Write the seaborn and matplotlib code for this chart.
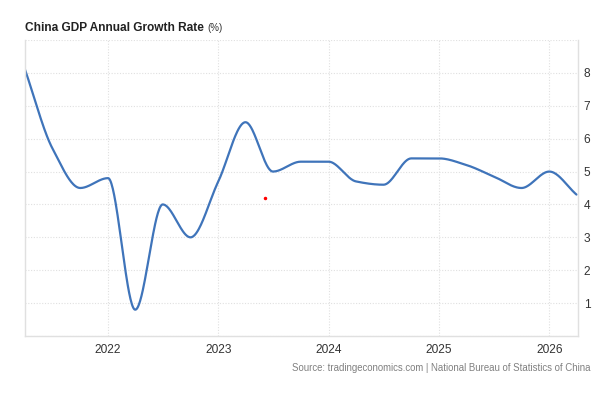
import matplotlib
matplotlib.use("Agg")
import matplotlib.pyplot as plt
import matplotlib.dates as mdates
import seaborn as sns
import pandas as pd
import numpy as np

# quarterly readings
quarters = ['2021-04-01', '2021-07-01', '2021-10-01',
            '2022-01-01', '2022-04-01', '2022-07-01', '2022-10-01',
            '2023-01-01', '2023-04-01', '2023-07-01', '2023-10-01',
            '2024-01-01', '2024-04-01', '2024-07-01', '2024-10-01',
            '2025-01-01', '2025-04-01', '2025-07-01', '2025-10-01',
            '2026-01-01', '2026-04-01']
growth = [8.1, 5.7, 4.5,
          4.8, 0.8, 4.0, 3.0,
          4.7, 6.5, 5.0, 5.3,
          5.3, 4.7, 4.6, 5.4,
          5.4, 5.2, 4.85, 4.5,
          5.0, 4.3]
year_ticks = ['2022', '2023', '2024', '2025', '2026']
y_ticks = [1, 2, 3, 4, 5, 6, 7, 8]

# stray red dot in the original
dot_date = '2023-06-03'
dot_val = 4.2

title = 'China GDP Annual Growth Rate'
unit = '(%)'
source = 'Source: tradingeconomics.com | National Bureau of Statistics of China'


def monotone_curve(x, y, n=40):
    # Fritsch-Carlson monotone cubic, same look as the site's smoothed line
    x = np.asarray(x, float)
    y = np.asarray(y, float)
    h = np.diff(x)
    d = np.diff(y) / h
    m = np.zeros_like(y)
    for k in range(1, len(y) - 1):
        if d[k - 1] * d[k] > 0:
            w1 = 2 * h[k] + h[k - 1]
            w2 = h[k] + 2 * h[k - 1]
            m[k] = (w1 + w2) / (w1 / d[k - 1] + w2 / d[k])
    m[0] = d[0]
    m[-1] = d[-1]
    xs, ys = [], []
    for k in range(len(h)):
        t = np.linspace(0, 1, n, endpoint=False)
        h00 = 2 * t**3 - 3 * t**2 + 1
        h10 = t**3 - 2 * t**2 + t
        h01 = -2 * t**3 + 3 * t**2
        h11 = t**3 - t**2
        xs.append(x[k] + t * h[k])
        ys.append(h00 * y[k] + h10 * h[k] * m[k] + h01 * y[k + 1] + h11 * h[k] * m[k + 1])
    xs.append([x[-1]])
    ys.append([y[-1]])
    return np.concatenate(xs), np.concatenate(ys)


df = pd.DataFrame({'date': pd.to_datetime(quarters), 'value': growth})
xnum = mdates.date2num(df['date'])
cx, cy = monotone_curve(xnum, df['value'])
curve = pd.DataFrame({'x': cx, 'y': cy})

sns.set_theme(style='white')
plt.rcParams['font.family'] = ['Liberation Sans', 'DejaVu Sans']

fig = plt.figure(figsize=(6.01, 4.11), dpi=100)
ax = fig.add_axes([25 / 601, 75 / 411, 553 / 601, 296 / 411])

sns.lineplot(data=curve, x='x', y='y', ax=ax, color='#3f74ba', linewidth=1.6)
ax.plot(mdates.date2num(pd.Timestamp(dot_date)), dot_val, 'o', color='red', markersize=1.5)

ax.set_xlim(xnum[0], xnum[-1] + 5)
ax.set_ylim(0, 9)
xt = mdates.date2num(pd.to_datetime([y + '-01-01' for y in year_ticks]))
ax.set_xticks(xt)
ax.set_xticklabels(year_ticks)
ax.set_yticks([0] + y_ticks + [9])
ax.set_yticklabels([''] + [str(v) for v in y_ticks] + [''])
ax.yaxis.tick_right()
ax.set_xlabel('')
ax.set_ylabel('')
ax.tick_params(axis='both', length=0, labelsize=8.6, colors='#333333')
ax.tick_params(axis='x', pad=6)
ax.tick_params(axis='y', pad=4)
ax.grid(True, linestyle=(0, (1, 1.5)), color='#e0e0e0', linewidth=0.8)

for s in ['left', 'bottom', 'right']:
    ax.spines[s].set_visible(True)
    ax.spines[s].set_color('#e0e0e0')
    ax.spines[s].set_linewidth(1)
ax.spines['top'].set_visible(False)

t = fig.text(25 / 601, 1 - 31 / 411, title, fontsize=8.6, fontweight='bold', color='#222222')
fig.canvas.draw()
bb = t.get_window_extent()
fig.text((bb.x1 + 3) / 601, 1 - 31 / 411, unit, fontsize=7, color='#333333')
fig.text(590 / 601, 1 - 371 / 411, source, fontsize=6.9, color='#808080', ha='right')

fig.savefig('out.png', dpi=100)
